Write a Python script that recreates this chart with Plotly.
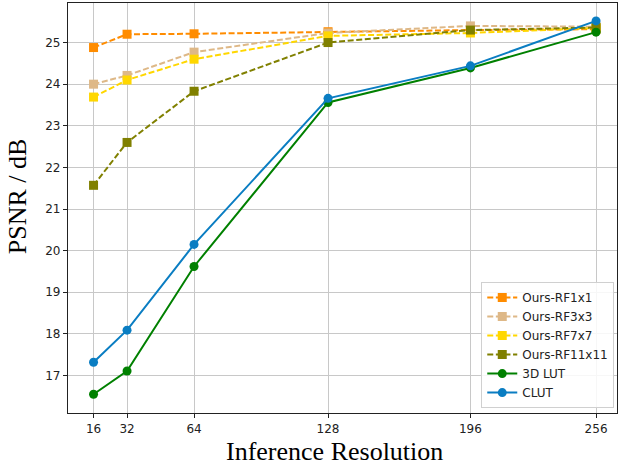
import plotly.graph_objects as go

# inference resolutions
resolutions = [16, 32, 64, 128, 196, 256]

# PSNR values (dB)
rf1x1 = [24.88, 25.20, 25.21, 25.26, 25.30, 25.32]
rf3x3 = [24.00, 24.21, 24.77, 25.23, 25.40, 25.38]
rf7x7 = [23.69, 24.10, 24.60, 25.16, 25.23, 25.35]
rf11x11 = [21.57, 22.60, 23.83, 25.00, 25.30, 25.36]
lut3d = [16.55, 17.11, 19.62, 23.56, 24.39, 25.25]
clut = [17.32, 18.09, 20.15, 23.66, 24.44, 25.52]

x_ticks = [16, 32, 64, 128, 196, 256]
y_ticks = [17, 18, 19, 20, 21, 22, 23, 24, 25]

series = [
    ('Ours-RF1x1', rf1x1, '#ff8c00', 'square', '6px,2.6px'),
    ('Ours-RF3x3', rf3x3, '#deb887', 'square', '6px,2.6px'),
    ('Ours-RF7x7', rf7x7, '#ffd700', 'square', '6px,2.6px'),
    ('Ours-RF11x11', rf11x11, '#808000', 'square', '6px,2.6px'),
    ('3D LUT', lut3d, '#008000', 'circle', 'solid'),
    ('CLUT', clut, '#0a7dc2', 'circle', 'solid'),
]

fig = go.Figure()
for name, vals, color, symbol, dash in series:
    fig.add_trace(go.Scatter(
        x=resolutions, y=vals, name=name,
        mode='lines+markers',
        line=dict(color=color, width=2, dash=dash),
        marker=dict(symbol=symbol, size=9, color=color),
    ))

axis_common = dict(
    showgrid=True, gridcolor='#c8c8c8', gridwidth=1.2,
    showline=True, linecolor='#222222', linewidth=1.2, mirror=True,
    ticks='outside', ticklen=4, tickcolor='#222222',
    tickfont=dict(family='DejaVu Sans', size=12, color='#222222'),
    zeroline=False, automargin=False,
)

fig.update_xaxes(range=[3.8, 266], tickmode='array', tickvals=x_ticks, **axis_common)
fig.update_yaxes(range=[16.10, 25.95], tickmode='array', tickvals=y_ticks, **axis_common)

# axis titles placed by hand (serif, like the reference)
title_font = dict(family='Liberation Serif', size=26, color='black')
fig.add_annotation(text='Inference Resolution', xref='paper', yref='paper',
                   x=0.485, y=-0.095, xanchor='center', yanchor='middle',
                   showarrow=False, font=title_font)
fig.add_annotation(text='PSNR / dB', xref='paper', yref='paper',
                   x=-0.092, y=0.53, xanchor='center', yanchor='middle',
                   textangle=-90, showarrow=False, font=title_font)

fig.update_layout(
    width=623, height=468,
    margin=dict(l=68, r=6, t=3, b=55),
    plot_bgcolor='white', paper_bgcolor='white',
    showlegend=True,
    legend=dict(
        x=0.995, y=0.012, xanchor='right', yanchor='bottom',
        bgcolor='rgba(255,255,255,0.85)', bordercolor='#d0d0d0', borderwidth=1,
        font=dict(family='DejaVu Sans', size=12, color='#222222'),
        itemwidth=30, tracegroupgap=0,
    ),
)

# drop the default 8px page margin so the figure sits at the window's corner
fig.write_html("out.html", config={'displayModeBar': False},
               post_script="document.body.style.margin='0px';")
